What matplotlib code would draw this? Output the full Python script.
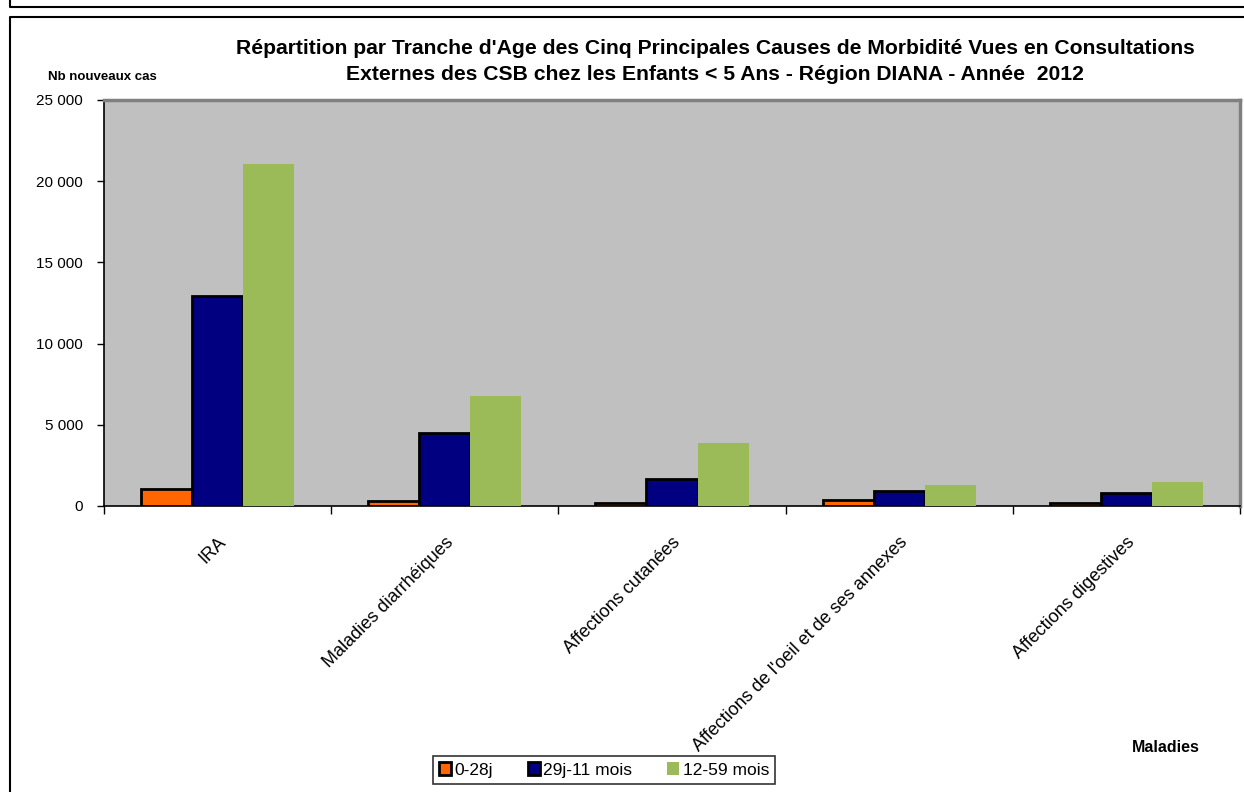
import matplotlib.pyplot as plt
import numpy as np
from matplotlib.lines import Line2D
from matplotlib.ticker import FuncFormatter

plt.rcParams['font.family'] = ['Liberation Sans', 'DejaVu Sans']

# données
maladies = ['IRA', 'Maladies diarrhéiques', 'Affections cutanées',
            "Affections de l'oeil et de ses annexes", 'Affections digestives']
tranches = ['0-28j', '29j-11 mois', '12-59 mois']
v_0_28j = [1050, 300, 200, 400, 200]
v_29j_11m = [12950, 4500, 1650, 900, 780]
v_12_59m = [21050, 6800, 3900, 1300, 1480]

couleurs = ['#FF6600', '#000080', '#9BBB59']
bords = ['black', 'black', 'none']

fig = plt.figure(figsize=(12.44, 7.92), dpi=100)

# cadres (graphique du dessus + cadre du graphique)
fig.add_artist(Line2D([10/1244, 10/1244, 1], [1, 1 - 7/792, 1 - 7/792],
                      transform=fig.transFigure, color='black', lw=1.5))
fig.add_artist(Line2D([10/1244, 10/1244, 1], [0, 1 - 17/792, 1 - 17/792],
                      transform=fig.transFigure, color='black', lw=1.5))

ax = fig.add_axes([104/1244, 1 - 506/792, 1136/1244, 406/792])
ax.set_facecolor('#C0C0C0')

x = np.arange(len(maladies))
w = 0.225
for i, vals in enumerate([v_0_28j, v_29j_11m, v_12_59m]):
    ax.bar(x + (i - 1) * w, vals, w, color=couleurs[i], edgecolor=bords[i],
           linewidth=2 if bords[i] != 'none' else 0, label=tranches[i], zorder=3)

ax.set_xlim(-0.5, len(maladies) - 0.5)
ax.set_ylim(0, 25000)
ax.set_yticks(np.arange(0, 25001, 5000))
ax.yaxis.set_major_formatter(FuncFormatter(lambda v, p: f'{int(v):,}'.replace(',', ' ')))

# ticks entre les catégories, libellés au centre
ax.set_xticks(np.arange(-0.5, len(maladies)), minor=False)
ax.set_xticklabels([])
ax.set_xticks(x, minor=True)
ax.set_xticklabels(maladies, minor=True, rotation=45, ha='right', va='top',
                   rotation_mode='anchor', fontsize=13)
ax.tick_params(axis='x', which='minor', length=0, pad=20)
ax.tick_params(axis='x', which='major', length=6, width=1, direction='out')
ax.tick_params(axis='y', length=5, width=1, direction='out', labelsize=11, pad=10)

ax.spines['left'].set_color('black')
ax.spines['bottom'].set_color('black')
ax.spines['left'].set_linewidth(1.2)
ax.spines['bottom'].set_linewidth(1.2)
ax.spines['top'].set_color('#808080')
ax.spines['right'].set_color('#808080')
ax.spines['top'].set_linewidth(2.5)
ax.spines['right'].set_linewidth(2.5)

fig.text(715/1244, 1 - 49/792,
         "Répartition par Tranche d'Age des Cinq Principales Causes de Morbidité Vues en Consultations",
         ha='center', va='center', fontsize=15.2, fontweight='bold')
fig.text(715/1244, 1 - 74/792,
         "Externes des CSB chez les Enfants < 5 Ans - Région DIANA - Année  2012",
         ha='center', va='center', fontsize=15.2, fontweight='bold')
fig.text(48/1244, 1 - 77/792, 'Nb nouveaux cas', ha='left', va='center',
         fontsize=9.5, fontweight='bold')
fig.text(1166/1244, 1 - 748/792, 'Maladies', ha='center', va='center',
         fontsize=11.5, fontweight='bold')

leg = fig.legend(loc='center', bbox_to_anchor=(604/1244, 1 - 770/792), ncol=3,
                 frameon=True, fancybox=False, edgecolor='black', fontsize=12.5,
                 handlelength=0.7, handleheight=0.7, handletextpad=0.2,
                 columnspacing=2.0, borderpad=0.35)
leg.get_frame().set_linewidth(1.2)

fig.savefig('out.png', dpi=100)
